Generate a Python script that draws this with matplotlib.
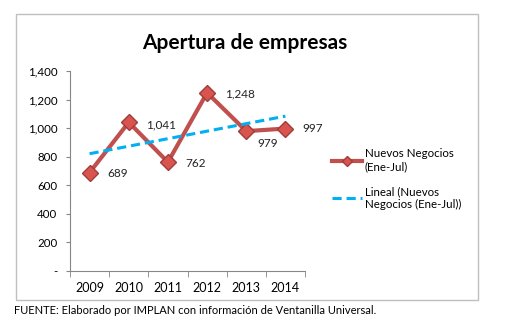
import matplotlib.pyplot as plt
from matplotlib.patches import Rectangle
from matplotlib.lines import Line2D

years = ["2009", "2010", "2011", "2012", "2013", "2014"]
negocios = [689, 1041, 762, 1248, 979, 997]
labels = ["689", "1,041", "762", "1,248", "979", "997"]
tendencia = [821, 1084]  # linea de tendencia lineal (2009 y 2014)
yticks = [0, 200, 400, 600, 800, 1000, 1200, 1400]
ylabels = ["-", "200", "400", "600", "800", "1,000", "1,200", "1,400"]

plt.rcParams['font.family'] = ['Lato', 'DejaVu Sans']

fig = plt.figure(figsize=(5.05, 3.35), dpi=100)
# marco del grafico
fig.patches.append(Rectangle((16/505, 1-300/335), 462/505, 286/335, transform=fig.transFigure,
                             fill=False, edgecolor="#bfbfbf", linewidth=1))

ax = fig.add_axes([70/505, 1-271/335, 235/505, 200/335])
x = list(range(len(years)))
ax.plot(x, negocios, color="#c0504d", linewidth=3, marker="D", markersize=8,
        markerfacecolor="#d9534f", markeredgecolor="#a03c39", markeredgewidth=1)
ax.plot([x[0], x[-1]], tendencia, color="#00b0f0", linewidth=2.2, linestyle=(0, (3, 1.6)))

offs = [(12.5, -1), (12.5, -2), (12.5, -1), (13, -1), (8, -9), (12.5, 0)]
for xi, v, lab, o in zip(x, negocios, labels, offs):
    ax.annotate(lab, (xi, v), xytext=o, textcoords="offset points", fontsize=8.5,
                ha="left", va="center", color="#222222")

ax.set_xlim(-0.5, 5.5)
ax.set_ylim(0, 1400)
ax.set_yticks(yticks)
ax.set_yticklabels(ylabels, fontsize=8.3)
ax.set_xticks(x)
ax.set_xticklabels(years, fontsize=9)
ax.set_xticks([i - 0.5 for i in range(7)], minor=True)
ax.tick_params(axis="x", which="major", length=0, pad=8)
ax.tick_params(axis="x", which="minor", length=4, color="#868686", direction="out")
ax.tick_params(axis="y", length=3, color="#868686", pad=6)
for s in ["top", "right"]:
    ax.spines[s].set_visible(False)
for s in ["left", "bottom"]:
    ax.spines[s].set_color("#868686")

fig.text(245/505, 1-43/335, "Apertura de empresas", ha="center", va="center",
         fontsize=15, fontweight="bold")

handles = [Line2D([], [], color="#c0504d", linewidth=3, marker="D", markersize=5,
                  markerfacecolor="#d9534f", markeredgecolor="#a03c39"),
           Line2D([], [], color="#00b0f0", linewidth=2.2, linestyle=(0, (3, 1.6)))]
fig.legend(handles, ["Nuevos Negocios\n(Ene-Jul)", "Lineal (Nuevos\nNegocios (Ene-Jul))"],
           loc="upper left", bbox_to_anchor=(322/505, 1-138/335), frameon=False,
           fontsize=8.3, handlelength=2.6, handletextpad=0.2, labelspacing=1.2)

fig.text(14/505, 1-311/335, "FUENTE: Elaborado por IMPLAN con información de Ventanilla Universal.",
         fontsize=8, ha="left", va="center")

fig.savefig("out.png", dpi=100)
